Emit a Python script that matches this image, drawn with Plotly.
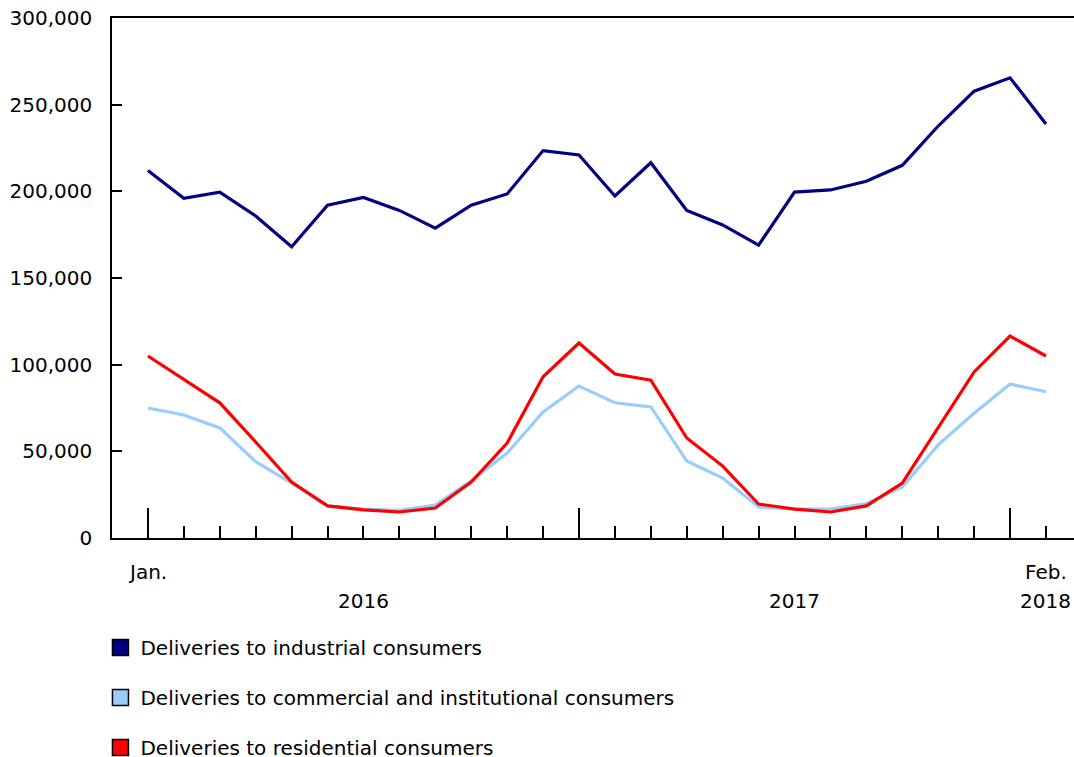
import plotly.graph_objects as go

months = ["Jan. 2016", "Feb. 2016", "Mar. 2016", "Apr. 2016", "May 2016", "Jun. 2016",
          "Jul. 2016", "Aug. 2016", "Sep. 2016", "Oct. 2016", "Nov. 2016", "Dec. 2016",
          "Jan. 2017", "Feb. 2017", "Mar. 2017", "Apr. 2017", "May 2017", "Jun. 2017",
          "Jul. 2017", "Aug. 2017", "Sep. 2017", "Oct. 2017", "Nov. 2017", "Dec. 2017",
          "Jan. 2018", "Feb. 2018"]

industrial = [212000, 196000, 199500, 185800, 168000, 192000, 196500, 189000, 178800,
              192000, 198500, 223500, 221000, 197300, 216500, 189000, 180600, 169000,
              199600, 200800, 205800, 215000, 237700, 257800, 265500, 238800]

commercial = [75000, 71000, 63500, 44000, 31700, 18500, 16700, 16000, 19000,
              33000, 49000, 72700, 87700, 78000, 75600, 44400, 34600, 17900,
              16700, 16700, 19800, 29400, 53700, 72000, 88800, 84400]

residential = [105000, 91700, 78000, 55400, 32300, 18500, 16200, 15000, 17300,
               32300, 54800, 93000, 112500, 94600, 91000, 57700, 41500, 19600,
               16700, 15000, 18500, 31700, 64000, 95800, 116500, 105000]

series_names = ["Deliveries to industrial consumers",
                "Deliveries to commercial and institutional consumers",
                "Deliveries to residential consumers"]
series_colors = ["#000080", "#99CCFF", "#FF0000"]

month_labels = {0: "Jan.", 25: "Feb."}
year_labels = {6: "2016", 18: "2017", 25: "2018"}
major_ticks = [0, 12, 24]
y_ticks = [0, 50000, 100000, 150000, 200000, 250000, 300000]

FONT = "DejaVu Sans, Verdana, sans-serif"
FS = 20
x = list(range(len(months)))

fig = go.Figure()
for name, vals, col in zip(series_names, [industrial, commercial, residential], series_colors):
    fig.add_trace(go.Scatter(x=x, y=vals, mode="lines", name=name,
                             line=dict(color=col, width=3.2),
                             customdata=months,
                             hovertemplate="%{customdata}: %{y:,}<extra>" + name + "</extra>",
                             showlegend=False))
# legend entries (square swatches)
for i, (name, col) in enumerate(zip(series_names, series_colors)):
    fig.add_trace(go.Scatter(x=[None], y=[None], mode="markers", name=name,
                             legendgroup=f"g{i}",
                             marker=dict(symbol="square", size=20, color=col,
                                         line=dict(color="#000000", width=1.5)),
                             showlegend=True))

annotations = []
for k, t in month_labels.items():
    annotations.append(dict(x=k, y=0, xref="x", yref="paper", text=t, showarrow=False,
                            yanchor="middle", yshift=-34, font=dict(size=FS, family=FONT, color="#000")))
for k, t in year_labels.items():
    annotations.append(dict(x=k, y=0, xref="x", yref="paper", text=t, showarrow=False,
                            yanchor="middle", yshift=-63, font=dict(size=FS, family=FONT, color="#000")))

fig.update_layout(
    width=1074, height=757,
    margin=dict(l=112, r=0, t=18, b=219, autoexpand=False),
    paper_bgcolor="white", plot_bgcolor="white",
    font=dict(family=FONT, size=FS, color="#000"),
    showlegend=True,
    legend=dict(x=-0.012, xanchor="left", y=-0.173, yanchor="top",
                traceorder="grouped", tracegroupgap=21,
                font=dict(size=FS, family=FONT, color="#000"),
                bgcolor="rgba(0,0,0,0)"),
    annotations=annotations,
    xaxis=dict(range=[-1.0, 25.78], showgrid=False, zeroline=False,
               showline=True, linecolor="#000", linewidth=1.5, mirror=True,
               tickmode="array", tickvals=major_ticks, ticks="inside", ticklen=30,
               tickcolor="#000", tickwidth=1.5, showticklabels=False,
               minor=dict(tickmode="linear", tick0=0, dtick=1, ticks="inside",
                          ticklen=12, tickcolor="#000", tickwidth=1.5, showgrid=False)),
    yaxis=dict(range=[0, 300000], showgrid=False, zeroline=False,
               showline=True, linecolor="#000", linewidth=1.5,
               tickmode="array", tickvals=y_ticks, tickformat=",",
               ticks="inside", ticklen=10, tickcolor="#000", tickwidth=1.5,
               ticklabelstandoff=14,
               tickfont=dict(size=FS, family=FONT, color="#000")),
)

fig.write_html("out.html", config={"displayModeBar": False},
               post_script="document.body.style.margin='0';document.body.style.padding='0';"
                           "document.body.style.overflow='hidden';")
